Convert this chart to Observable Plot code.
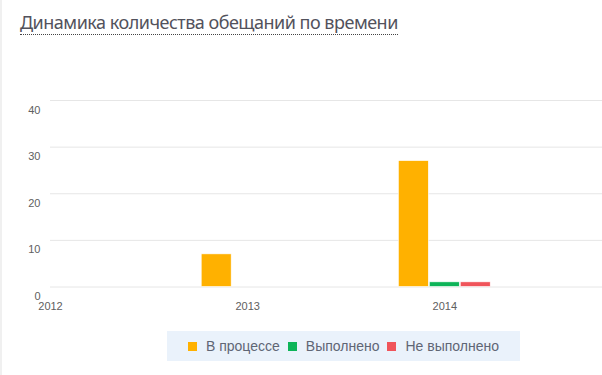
<!DOCTYPE html>
<html>
<head>
<meta charset="utf-8">
<script src="https://cdn.jsdelivr.net/npm/d3@7"></script>
<script src="https://cdn.jsdelivr.net/npm/@observablehq/plot@0.6"></script>
<style>
  html, body { margin: 0; padding: 0; background: #fff; }
  body { width: 602px; height: 375px; overflow: hidden; position: relative; border-left: 2px solid #f0f0f0; box-sizing: border-box; }
  #titlewrap { height: 45px; box-sizing: border-box; padding-top: 11px; padding-left: 18px; }
  #title { display: inline-block; font-family: "Noto Sans", "Open Sans", sans-serif; font-size: 18px; letter-spacing: -0.5px; line-height: 23px; color: #52525c; border-bottom: 1px dotted #444; }
  #chart { position: absolute; left: -2px; top: 45px; }
  #legend { position: absolute; left: 165px; top: 331px; width: 353px; height: 30px; background: #eaf2fb; display: flex; align-items: center; justify-content: center; font-family: "Liberation Sans", Arial, sans-serif; font-size: 14px; color: #5f6675; }
  .item { display: flex; align-items: center; margin: 0 4px; }
  .sw { width: 9px; height: 9px; margin-right: 9px; }
</style>
</head>
<body>
<div id="titlewrap"><span id="title">Динамика количества обещаний по времени</span></div>
<div id="chart"></div>
<div id="legend"></div>
<script>
const years = [2013, 2014];
const seriesNames = ["В процессе", "Выполнено", "Не выполнено"];
const seriesColors = ["#FFB100", "#0DB458", "#F0545A"];
const inProgress = [7, 27];
const done = [0, 1];
const notDone = [0, 1];
const xTicks = [2012, 2013, 2014];
const yTicks = [0, 10, 20, 30, 40];

const seriesValues = [inProgress, done, notDone];
const rows = [];
years.forEach((yr, i) => {
  seriesValues.forEach((vals, s) => {
    rows.push({year: yr, s, series: seriesNames[s], value: vals[i]});
  });
});
const slot = 0.157;     // spacing of bars within a year group (in years)
const half = 0.076;     // half bar width (in years)

const chart = Plot.plot({
  width: 602,
  height: 275,
  marginLeft: 50,
  marginRight: 0,
  marginTop: 55,
  marginBottom: 33.5,
  style: {fontFamily: "'Liberation Sans', Arial, sans-serif", fontSize: "11px", color: "#606060", background: "transparent"},
  x: {type: "linear", domain: [2012, 2014.8]},
  y: {domain: [0, 40]},
  color: {domain: seriesNames, range: seriesColors},
  marks: [
    Plot.gridY(yTicks, {stroke: "#e6e6e6", strokeOpacity: 1}),
    Plot.axisY(yTicks, {tickSize: 0, tickPadding: 10, dy: 9.5, label: null, fill: "#606060"}),
    Plot.axisX(xTicks, {tickSize: 0, tickPadding: 15, label: null, tickFormat: d => String(d), fill: "#606060"}),
    Plot.rectY(rows.filter(d => d.value > 0), {
      x1: d => d.year + (d.s - 1) * slot - half,
      x2: d => d.year + (d.s - 1) * slot + half,
      y: "value",
      fill: "series",
      stroke: "white",
      strokeWidth: 0.6
    })
  ]
});
document.getElementById("chart").appendChild(chart);

const legend = document.getElementById("legend");
seriesNames.forEach((n, i) => {
  const it = document.createElement("div");
  it.className = "item";
  const sw = document.createElement("span");
  sw.className = "sw";
  sw.style.background = seriesColors[i];
  const t = document.createElement("span");
  t.textContent = n;
  it.appendChild(sw);
  it.appendChild(t);
  legend.appendChild(it);
});
</script>
</body>
</html>
